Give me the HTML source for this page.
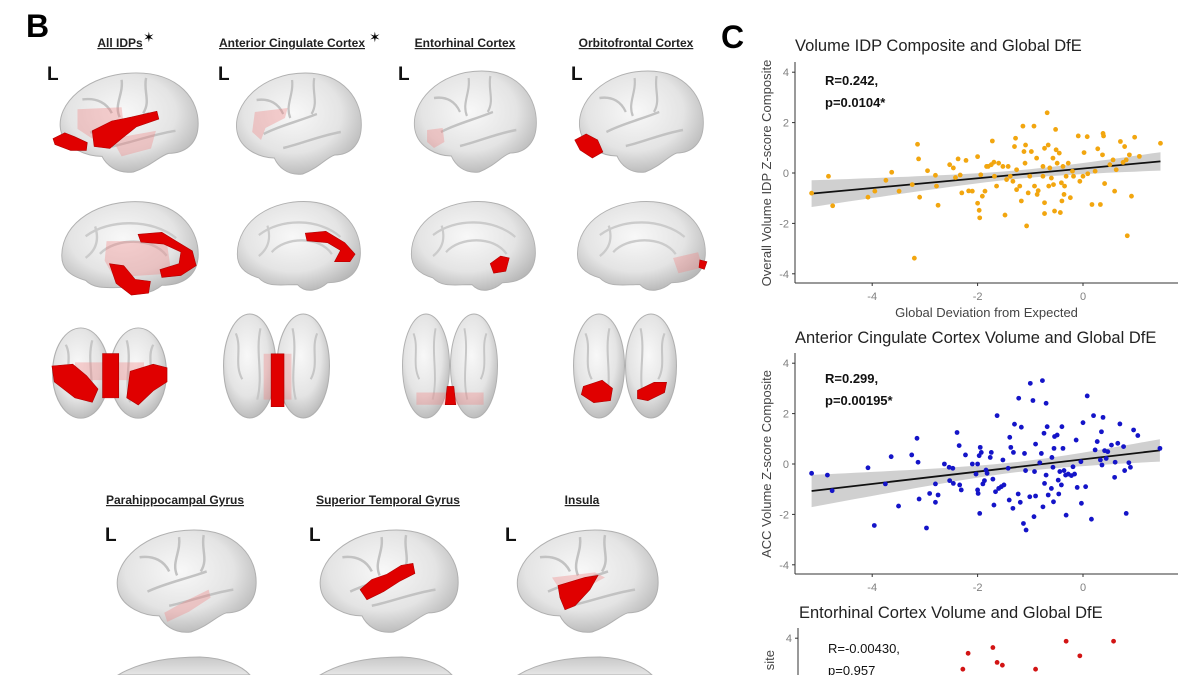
<!DOCTYPE html>
<html><head><meta charset="utf-8"><style>
html,body{margin:0;padding:0;background:#fff;}
body{width:1200px;height:675px;overflow:hidden;position:relative;font-family:"Liberation Sans",sans-serif;}
svg{position:absolute;left:0;top:0;overflow:hidden;}
</style></head><body>
<svg id="fig" width="1200" height="675" viewBox="0 0 1200 675" xmlns="http://www.w3.org/2000/svg">
<defs>
<radialGradient id="bg" cx="45%" cy="40%" r="65%">
<stop offset="0" stop-color="#f8f8f8"/><stop offset="0.6" stop-color="#e4e4e4"/><stop offset="1" stop-color="#b4b4b4"/>
</radialGradient>
<linearGradient id="bgv" x1="0" y1="0" x2="0" y2="1"><stop offset="0" stop-color="#c8c8c8"/><stop offset="1" stop-color="#e6e6e6"/></linearGradient>
</defs>
<g id="brains"></g>
<g fill="url(#bgv)" stroke="#b0b0b0" stroke-width="1">
<path d="M118,675 C140,662 170,657 200,657 C225,658 242,666 250,675 Z"/>
<path d="M320,675 C342,662 372,657 402,657 C427,658 444,666 452,675 Z"/>
<path d="M518,675 C540,662 570,657 600,657 C625,658 643,666 652,675 Z"/>
</g>
<g font-family="Liberation Sans, sans-serif">
<text x="26" y="37" font-size="32" font-weight="bold">B</text>
<text x="721" y="48" font-size="32" font-weight="bold">C</text>
<g font-size="12" font-weight="bold" fill="#222" text-anchor="middle" text-decoration="underline">
<text x="120" y="47">All IDPs</text>
<text x="292" y="47">Anterior Cingulate Cortex</text>
<text x="465" y="47">Entorhinal Cortex</text>
<text x="636" y="47">Orbitofrontal Cortex</text>
<text x="175" y="504">Parahippocampal Gyrus</text>
<text x="388" y="504">Superior Temporal Gyrus</text>
<text x="582" y="504">Insula</text>
</g>
<text x="143" y="42" font-size="14">✶</text>
<text x="369" y="42" font-size="14">✶</text>
<g font-size="19" font-weight="bold" fill="#111">
<text x="47" y="80">L</text>
<text x="218" y="80">L</text>
<text x="398" y="80">L</text>
<text x="571" y="80">L</text>
<text x="105" y="541">L</text>
<text x="309" y="541">L</text>
<text x="505" y="541">L</text>
</g>
</g>
<g id="charts"></g>
</svg>
<script>
// ---------- Chart data ----------
const c1x=[-5.15,-4.83,-4.75,-4.08,-3.95,-3.74,-3.63,-3.49,-3.24,-3.2,-3.14,-3.12,-3.1,-2.95,-2.8,-2.78,-2.75,-2.53,-2.46,-2.42,-2.37,-2.33,-2.3,-2.22,-2.17,-2.1,-2.0,-2.0,-1.97,-1.96,-1.94,-1.91,-1.86,-1.83,-1.8,-1.74,-1.72,-1.69,-1.68,-1.64,-1.6,-1.52,-1.48,-1.45,-1.42,-1.38,-1.33,-1.3,-1.28,-1.26,-1.26,-1.2,-1.17,-1.14,-1.12,-1.09,-1.1,-1.07,-1.04,-1.01,-0.98,-0.93,-0.92,-0.88,-0.87,-0.85,-0.76,-0.76,-0.73,-0.73,-0.73,-0.68,-0.66,-0.65,-0.63,-0.6,-0.57,-0.56,-0.52,-0.54,-0.51,-0.49,-0.45,-0.43,-0.41,-0.4,-0.38,-0.36,-0.35,-0.32,-0.28,-0.24,-0.2,-0.18,-0.09,-0.06,0,0.02,0.08,0.09,0.17,0.23,0.28,0.33,0.37,0.38,0.39,0.41,0.51,0.57,0.6,0.63,0.71,0.76,0.79,0.82,0.84,0.88,0.92,0.98,1.07,1.47];
const c1y=[-0.8,-0.13,-1.3,-0.96,-0.72,-0.29,0.03,-0.72,-0.46,-3.38,1.14,0.56,-0.96,0.09,-0.09,-0.52,-1.28,0.33,0.2,-0.18,0.56,-0.08,-0.79,0.5,-0.71,-0.72,0.65,-1.2,-1.48,-1.78,-0.07,-0.92,-0.72,0.26,0.26,0.33,1.27,0.43,-0.13,-0.52,0.39,0.26,-1.67,-0.26,0.26,-0.13,-0.33,1.05,1.38,-0.66,0.13,-0.52,-1.11,1.86,0.85,1.11,0.39,-2.1,-0.79,-0.13,0.85,1.86,-0.52,0.59,-0.85,-0.7,0.26,-0.13,0.98,-1.18,-1.61,2.39,1.11,-0.52,0.2,-0.2,0.59,-0.46,1.73,-1.51,0.92,0.39,0.79,-1.57,-0.39,-1.11,0.26,-0.85,-0.52,-0.13,0.39,-0.98,0.07,-0.13,1.47,-0.33,-0.13,0.81,1.44,-0.03,-1.25,0.07,0.96,-1.25,0.72,1.57,1.47,-0.42,0.33,0.52,-0.72,0.13,1.25,0.42,1.05,0.52,-2.49,0.72,-0.92,1.42,0.66,1.18];
const c2x=[-5.15,-4.85,-4.76,-4.08,-3.96,-3.75,-3.64,-3.5,-3.25,-3.15,-3.13,-3.11,-2.97,-2.91,-2.8,-2.8,-2.75,-2.63,-2.54,-2.53,-2.47,-2.46,-2.39,-2.35,-2.34,-2.31,-2.23,-2.1,-2.03,-2.0,-2.0,-1.99,-1.97,-1.96,-1.95,-1.93,-1.9,-1.87,-1.84,-1.82,-1.76,-1.74,-1.71,-1.69,-1.66,-1.63,-1.6,-1.55,-1.52,-1.5,-1.42,-1.4,-1.39,-1.37,-1.33,-1.32,-1.3,-1.23,-1.22,-1.19,-1.17,-1.13,-1.11,-1.09,-1.08,-1.01,-1.0,-0.95,-0.93,-0.92,-0.9,-0.9,-0.82,-0.79,-0.77,-0.76,-0.74,-0.73,-0.7,-0.7,-0.68,-0.66,-0.6,-0.59,-0.57,-0.56,-0.55,-0.54,-0.49,-0.47,-0.46,-0.44,-0.41,-0.4,-0.38,-0.36,-0.33,-0.32,-0.28,-0.22,-0.19,-0.16,-0.13,-0.11,-0.04,-0.03,0,0.05,0.08,0.16,0.2,0.23,0.27,0.33,0.35,0.36,0.38,0.41,0.44,0.47,0.54,0.6,0.61,0.66,0.7,0.77,0.79,0.82,0.87,0.9,0.96,1.04,1.46];
const c2y=[-0.37,-0.44,-1.06,-0.15,-2.44,-0.79,0.29,-1.67,0.36,1.02,0.07,-1.39,-2.54,-1.17,-0.79,-1.52,-1.23,0,-0.13,-0.66,-0.17,-0.77,1.25,0.73,-0.83,-1.03,0.36,0,-0.4,0,-1.03,-1.17,0.33,-1.96,0.66,0.46,-0.79,-0.66,-0.24,-0.37,0.26,0.46,-0.6,-1.63,-1.1,1.92,-0.97,-0.9,0.16,-0.83,-0.17,-1.43,1.06,0.66,-1.76,0.46,1.58,-1.19,2.61,-1.52,1.46,-2.36,0.42,-0.26,-2.62,-1.3,3.2,2.52,-2.09,-0.3,0.79,-1.27,0.05,0.42,3.31,-1.7,1.22,-0.77,-0.44,2.41,1.48,-1.23,-0.97,0.26,-0.13,-1.5,0.62,1.09,1.15,-0.64,-1.19,-0.3,-0.83,1.48,0.62,-0.26,-0.44,-2.03,-0.4,-0.46,-0.11,-0.4,0.95,-0.93,0.09,-1.56,1.64,-0.9,2.7,-2.19,1.92,0.56,0.89,0.16,1.28,-0.04,1.85,0.53,0.22,0.49,0.75,-0.53,0.07,0.82,1.59,0.69,-0.26,-1.96,0.05,-0.13,1.35,1.13,0.62];
const c3x=[-2.18,-2.28,-1.71,-1.63,-1.53,-0.9,-0.32,-0.06,0.58];
const c3y=[3.4,2.77,3.63,3.04,2.93,2.77,3.88,3.3,3.88];
const xTicks=[-4,-2,0];
const yTicks=[-4,-2,0,2,4];

// ---------- Brains ----------
const NS='http://www.w3.org/2000/svg';
const bg=document.getElementById('brains');
const LAT='M8,62 C2,35 35,3 85,3 C128,3 150,30 148,58 C147,75 135,85 118,85 C108,88 100,98 82,104 C64,106 54,96 50,88 C35,88 12,80 8,62 Z';
const MED='M5,60 C5,25 45,2 90,5 C130,8 150,35 148,62 C146,82 130,90 110,90 C100,98 85,102 75,92 C55,92 40,95 30,85 C12,80 5,72 5,60 Z';
function mk(tag,attrs,parent){const e=document.createElementNS(NS,tag);for(const k in attrs)e.setAttribute(k,attrs[k]);parent.appendChild(e);return e;}
function brain(kind,x,y,w,h,reds,pinks,name){
  const g=mk('g',{transform:`translate(${x},${y}) scale(${w/(kind==='post'?100:150)},${h/105})`},bg);
  
  
  if(kind==='post'){
    mk('ellipse',{cx:25,cy:52,rx:24.5,ry:51,fill:'url(#bg)',stroke:'#b0b0b0','stroke-width':1},g);
    mk('ellipse',{cx:75,cy:52,rx:24.5,ry:51,fill:'url(#bg)',stroke:'#b0b0b0','stroke-width':1},g);
    mk('path',{d:'M12,20 C18,35 10,50 18,65 M35,15 C30,40 38,60 32,85 M65,15 C70,40 62,60 68,85 M88,20 C82,35 90,50 82,65',fill:'none',stroke:'#c6c6c6','stroke-width':2},g);
  } else {
    mk('path',{d:kind==='lat'?LAT:MED,fill:'url(#bg)',stroke:'#b0b0b0','stroke-width':1},g);
    if(kind==='lat'){
      mk('path',{d:'M38,64 C55,56 75,52 98,44 M70,10 C72,25 62,35 68,48 M95,8 C92,22 100,32 92,44 M30,30 C45,28 55,34 60,44 M60,78 C80,74 100,66 125,62',fill:'none',stroke:'#c2c2c2','stroke-width':2.5},g);
    } else {
      mk('path',{d:'M30,40 C55,22 100,22 125,42 M45,58 C60,42 100,40 115,60 M40,30 C45,45 40,55 30,62',fill:'none',stroke:'#cbcbcb','stroke-width':2.5},g);
    }
  }
  (pinks||[]).forEach(d=>mk('path',{d:d,fill:'#f08080','fill-opacity':0.35},g));
  (reds||[]).forEach(d=>mk('path',{d:d,fill:'#e00000',stroke:'#b00000','stroke-width':0.6},g));
}
brain('lat',53,70,147,103,['M0,70 L12,64 L22,68 L35,74 L34,82 L18,82 L2,76 Z','M40,62 L60,52 L80,48 L106,42 L108,50 L85,58 L70,70 L58,80 L42,78 Z'],['M25,40 L70,38 L72,55 L40,70 L25,60 Z','M60,70 L105,62 L100,80 L70,88 Z'],'brain-all-idps-lateral');
brain('lat',230,70,133,105,[],['M28,42 L65,38 L62,48 L40,58 L35,70 L25,62 Z'],'brain-acc-lateral');
brain('lat',408,68,130,105,[],['M22,62 L40,60 L42,74 L30,80 L22,74 Z'],'brain-entorhinal-lateral');
brain('lat',573,68,132,105,['M2,72 L15,66 L28,72 L34,84 L22,90 L8,82 Z'],[],'brain-ofc-lateral');
brain('med',57,197,143,103,['M85,38 L110,36 L125,45 L142,55 L146,70 L130,80 L110,82 L108,74 L128,68 L130,56 L112,48 L88,46 Z','M55,68 L70,70 L82,84 L98,86 L96,98 L78,100 L62,88 Z'],['M52,45 L115,45 L120,78 L60,82 L50,65 Z'],'brain-all-idps-medial');
brain('med',233,197,129,100,['M84,38 L108,36 L130,48 L142,60 L136,68 L118,68 L125,56 L110,48 L86,46 Z'],[],'brain-acc-medial');
brain('med',407,197,130,100,['M96,70 L108,62 L118,64 L114,78 L100,80 Z'],[],'brain-entorhinal-medial');
brain('med',573,197,134,100,['M142,66 L150,68 L147,76 L141,74 Z'],['M112,64 L140,58 L145,74 L118,80 Z'],'brain-ofc-medial');
brain('post',52,327,115,93,['M0,44 L18,42 L30,55 L40,70 L35,85 L20,80 L2,62 Z','M44,30 L58,30 L58,80 L44,80 Z','M68,50 L88,42 L100,46 L100,62 L88,72 L75,88 L65,80 Z'],['M20,40 L80,40 L80,60 L20,60 Z'],'brain-all-idps-posterior');
brain('post',223,313,107,107,['M45,40 L57,40 L57,92 L45,92 Z'],['M38,40 L64,40 L64,85 L38,85 Z'],'brain-acc-posterior');
brain('post',402,313,96,107,['M47,72 L54,72 L56,90 L45,90 Z'],['M15,78 L85,78 L85,90 L15,90 Z'],'brain-entorhinal-posterior');
brain('post',573,313,104,107,['M10,72 L28,66 L38,74 L36,86 L20,88 L8,80 Z','M62,76 L78,68 L90,68 L88,78 L72,86 L62,84 Z'],[],'brain-ofc-posterior');
brain('lat',110,527,148,106,[],['M55,85 L75,74 L100,62 L102,70 L80,84 L58,94 Z'],'brain-phg-lateral');
brain('lat',313,527,147,106,['M48,62 L60,52 L75,47 L90,38 L102,36 L104,46 L88,54 L72,64 L55,72 Z'],[],'brain-stg-lateral');
brain('lat',510,527,150,106,['M48,58 L75,50 L88,48 L80,62 L65,78 L55,82 L50,70 Z'],['M42,50 L85,45 L95,50 L80,58 L50,62 Z'],'brain-insula-lateral');

// ---------- Scatter charts ----------
const cg=document.getElementById('charts');
function txt(parent,x,y,s,attrs){const t=mk('text',Object.assign({x:x,y:y},attrs||{}),parent);t.textContent=s;return t;}
function chart(o){
  const g=mk('g',{'font-family':'Liberation Sans, sans-serif'},cg);
  
  
  const sx=v=>o.x0+v*o.kx, sy=v=>o.y0-v*o.ky;
  const clip=mk('clipPath',{id:'clip'+o.id},g);
  mk('rect',{x:o.left,y:o.top,width:o.right-o.left,height:o.bottom-o.top},clip);
  const xs=o.xs, ys=o.ys, n=xs.length;
  if(o.fit){
    const mx=xs.reduce((a,b)=>a+b,0)/n, my=ys.reduce((a,b)=>a+b,0)/n;
    let sxx=0,sxy=0;for(let i=0;i<n;i++){sxx+=(xs[i]-mx)**2;sxy+=(xs[i]-mx)*(ys[i]-my);}
    const b=sxy/sxx,a=my-b*mx;let sse=0;for(let i=0;i<n;i++)sse+=(ys[i]-a-b*xs[i])**2;
    const s=Math.sqrt(sse/(n-2));
    const xmin=Math.min(...xs),xmax=Math.max(...xs);
    const up=[],lo=[];
    for(let k=0;k<=40;k++){const xv=xmin+(xmax-xmin)*k/40;const se=1.98*s*Math.sqrt(1/n+(xv-mx)**2/sxx);const yv=a+b*xv;
      up.push(sx(xv).toFixed(1)+','+sy(yv+se).toFixed(1));lo.unshift(sx(xv).toFixed(1)+','+sy(yv-se).toFixed(1));}
    const band=mk('polygon',{points:up.concat(lo).join(' '),fill:'#c8c8c8','fill-opacity':0.85},g);
    
    
    const ln=mk('line',{x1:sx(xmin),y1:sy(a+b*xmin),x2:sx(xmax),y2:sy(a+b*xmax),stroke:'#111','stroke-width':1.8},g);
    
    
  }
  const pts=mk('g',{'clip-path':'url(#clip'+o.id+')'},g);
  for(let i=0;i<n;i++){
    const c=mk('circle',{cx:sx(xs[i]),cy:sy(ys[i]),r:2.4,fill:o.color},pts);
    
    
  }
  const ya=mk('line',{x1:o.left,y1:o.top,x2:o.left,y2:o.bottom,stroke:'#333','stroke-width':1},g);
  
  
  if(o.xaxis){
    const xa=mk('line',{x1:o.left,y1:o.bottom,x2:o.right,y2:o.bottom,stroke:'#333','stroke-width':1},g);
    
    
    xTicks.forEach(t=>{mk('line',{x1:sx(t),y1:o.bottom,x2:sx(t),y2:o.bottom+3,stroke:'#333'},g);
      const tl=txt(g,sx(t),o.bottom+17,String(t),{'font-size':11,fill:'#808080','text-anchor':'middle'});
      
      });
  }
  yTicks.forEach(t=>{const yy=sy(t);if(yy<o.top-2||yy>o.bottom)return;
    mk('line',{x1:o.left-3,y1:yy,x2:o.left,y2:yy,stroke:'#333'},g);
    const tl=txt(g,o.left-6,yy+4,String(t),{'font-size':11,fill:'#808080','text-anchor':'end'});
    
    });
  const ti=txt(g,o.titleX,o.titleY,o.title,{'font-size':16.5,fill:'#222'});
  
  
  const yt=txt(g,0,0,o.ytitle,{'font-size':13,fill:'#444','text-anchor':o.yAnchor||'middle',transform:`translate(${o.left-24},${o.yTitleY}) rotate(-90)`});
  
  
  if(o.xtitle){const xt=txt(g,(o.left+o.right)/2,o.bottom+34,o.xtitle,{'font-size':13,fill:'#444','text-anchor':'middle'});
    
    }
  const r1=txt(g,o.left+30,o.annY,o.ann[0],{'font-size':13,'font-weight':o.bold?'bold':'normal',fill:'#111'});
  
  
  const r2=txt(g,o.left+30,o.annY+22,o.ann[1],{'font-size':13,'font-weight':o.bold?'bold':'normal',fill:'#111'});
  
  
}
chart({id:1,name:'chart-volume-idp',xs:c1x,ys:c1y,color:'#F2A60F',x0:1083,kx:52.7,y0:173,ky:25.2,left:795,right:1178,top:62,bottom:283,xaxis:true,fit:true,
  title:'Volume IDP Composite and Global DfE',titleX:795,titleY:51,ytitle:'Overall Volume IDP Z-score Composite',yTitleY:173,xtitle:'Global Deviation from Expected',ann:['R=0.242,','p=0.0104*'],annY:85,bold:true});
chart({id:2,name:'chart-acc-volume',xs:c2x,ys:c2y,color:'#1414C8',x0:1083,kx:52.7,y0:464,ky:25.2,left:795,right:1178,top:353,bottom:574,xaxis:true,fit:true,
  title:'Anterior Cingulate Cortex Volume and Global DfE',titleX:795,titleY:343,ytitle:'ACC Volume Z-score Composite',yTitleY:464,ann:['R=0.299,','p=0.00195*'],annY:383,bold:true});
chart({id:3,name:'chart-entorhinal-volume',xs:c3x,ys:c3y,color:'#D21414',x0:1083,kx:52.7,y0:739,ky:25.2,left:798,right:1178,top:628,bottom:675,xaxis:false,fit:false,
  title:'Entorhinal Cortex Volume and Global DfE',titleX:799,titleY:618,ytitle:'site',yTitleY:650,yAnchor:'end',ann:['R=-0.00430,','p=0.957'],annY:653,bold:false});
</script>
</body></html>
